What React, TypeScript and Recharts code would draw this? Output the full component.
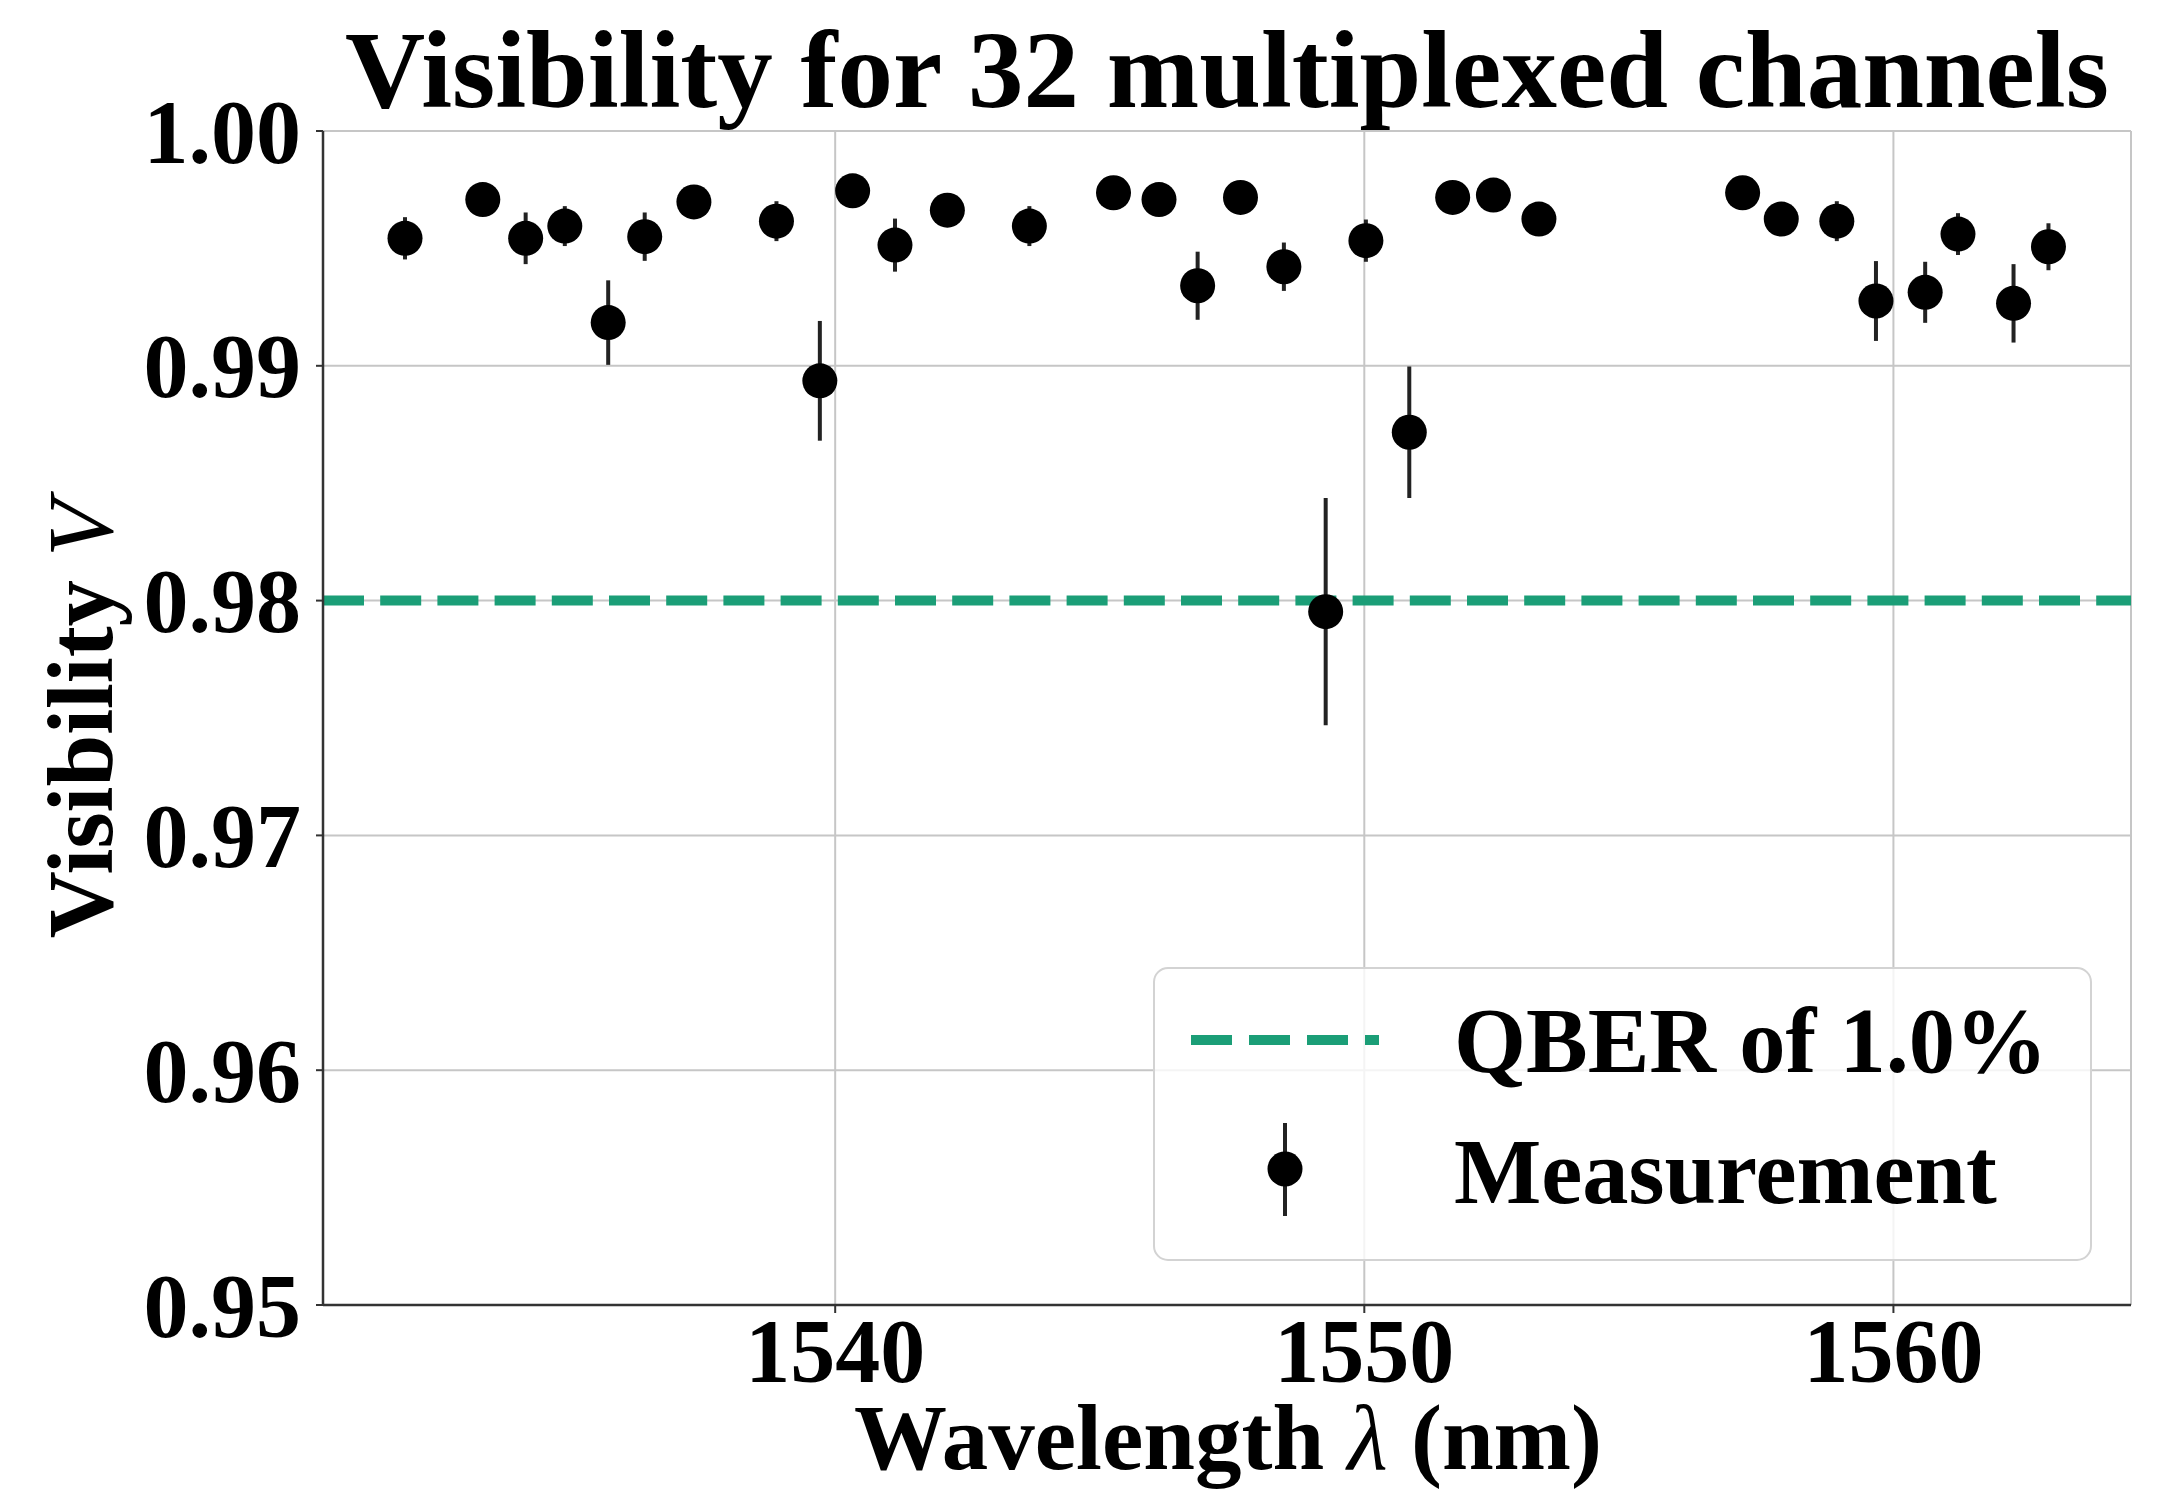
import React from 'react';
import { ScatterChart, Scatter, XAxis, YAxis, CartesianGrid, ReferenceLine, ErrorBar } from 'recharts';

const wavelengths = [
  1531.87, 1533.34, 1534.15, 1534.89, 1535.71, 1536.4, 1537.33, 1538.89,
  1539.71, 1540.33, 1541.13, 1542.12, 1543.67, 1545.26, 1546.12, 1546.85,
  1547.66, 1548.48, 1549.27, 1550.03, 1550.85, 1551.67, 1552.44, 1553.3,
  1557.15, 1557.88, 1558.93, 1559.67, 1560.6, 1561.22, 1562.27, 1562.93,
];
const visibility = [
  0.99543, 0.99708, 0.99543, 0.99595, 0.99184, 0.9955, 0.99698, 0.99616,
  0.98936, 0.99745, 0.99514, 0.99663, 0.99595, 0.99737, 0.99708, 0.99341,
  0.99717, 0.99422, 0.97953, 0.99533, 0.98717, 0.99717, 0.99727, 0.99625,
  0.99737, 0.99625, 0.99616, 0.99276, 0.99313, 0.99561, 0.99266, 0.99507,
];
const errors = [
  0.0009, 0.0005, 0.0011, 0.00085, 0.0018, 0.00103, 0.0005, 0.00085,
  0.00255, 0.0005, 0.00113, 0.0006, 0.00085, 0.0005, 0.0005, 0.00145,
  0.0005, 0.00103, 0.00484, 0.0009, 0.0028, 0.0005, 0.0005, 0.0005,
  0.0005, 0.0005, 0.00085, 0.0017, 0.0013, 0.00089, 0.00167, 0.001,
];
const xTicks = [1540, 1550, 1560];
const yTicks = [0.95, 0.96, 0.97, 0.98, 0.99, 1.0];
const xDomain = [1530.32, 1564.49];
const yDomain = [0.95, 1.0];
const qberVisibility = 0.98;

const titleText = 'Visibility for 32 multiplexed channels';
const legendLineLabel = 'QBER of 1.0%';
const legendPointLabel = 'Measurement';

const data = wavelengths.map((w, i) => ({ x: w, y: visibility[i], err: errors[i] }));

const FONT = "'Liberation Serif', 'Times New Roman', serif";
const GREEN = '#1b9e77';

const YTick = (props: any) => {
  const { x, y, payload } = props;
  return (
    <text x={x} y={y} dy="0.35em" textAnchor="end" fontFamily={FONT} fontWeight="bold" fontSize={90} fill="#000">
      {Number(payload.value).toFixed(2)}
    </text>
  );
};

const XTick = (props: any) => {
  const { x, y, payload } = props;
  return (
    <text x={x} y={y} dy={69} textAnchor="middle" fontFamily={FONT} fontWeight="bold" fontSize={90} fill="#000">
      {payload.value}
    </text>
  );
};

const Dot = (props: any) => <circle cx={props.cx} cy={props.cy} r={17.5} fill="#000" />;

export default function App() {
  return (
    <div style={{ position: 'absolute', left: 0, top: 0, width: 2163, height: 1491, background: '#fff' }}>
      <ScatterChart width={2163} height={1491} margin={{ top: 131, right: 32, bottom: 86, left: 123 }}>
        <CartesianGrid stroke="#c6c6c6" strokeWidth={2} />
        <XAxis
          type="number"
          dataKey="x"
          domain={xDomain}
          ticks={xTicks}
          allowDataOverflow
          height={100}
          tick={<XTick />}
          tickSize={8}
          tickMargin={0}
          axisLine={{ stroke: '#333', strokeWidth: 2.5 }}
          tickLine={{ stroke: '#333', strokeWidth: 2 }}
        />
        <XAxis
          xAxisId="top"
          orientation="top"
          type="number"
          domain={xDomain}
          allowDataOverflow
          height={0}
          tick={false}
          tickLine={false}
          axisLine={{ stroke: '#333', strokeWidth: 2.5 }}
        />
        <YAxis
          type="number"
          dataKey="y"
          domain={yDomain}
          ticks={yTicks}
          allowDataOverflow
          width={200}
          tick={<YTick />}
          tickSize={7}
          tickMargin={15}
          axisLine={{ stroke: '#333', strokeWidth: 2.5 }}
          tickLine={{ stroke: '#333', strokeWidth: 2 }}
        />
        <YAxis
          yAxisId="right"
          orientation="right"
          type="number"
          domain={yDomain}
          allowDataOverflow
          width={0}
          tick={false}
          tickLine={false}
          axisLine={{ stroke: '#333', strokeWidth: 2.5 }}
        />
        <ReferenceLine y={qberVisibility} stroke={GREEN} strokeWidth={10} strokeDasharray="41 16.2" />
        <Scatter data={data} shape={<Dot />} isAnimationActive={false}>
          <ErrorBar dataKey="err" direction="y" width={0} stroke="#222" strokeWidth={4} isAnimationActive={false} />
        </Scatter>
      </ScatterChart>
      <svg width={2163} height={1491} style={{ position: 'absolute', left: 0, top: 0, pointerEvents: 'none' }}>
        <text x={1227} y={107} textAnchor="middle" fontFamily={FONT} fontWeight="bold" fontSize={111} fill="#000">
          {titleText}
        </text>
        <text x={1228} y={1469} textAnchor="middle" fontFamily={FONT} fontWeight="bold" fontSize={93} fill="#000">
          Wavelength <tspan fontStyle="italic" fontWeight="normal">λ</tspan> (nm)
        </text>
        <text
          x={112}
          y={719}
          textAnchor="middle"
          transform="rotate(-90, 112, 719)"
          fontFamily={FONT}
          fontWeight="bold"
          fontSize={93}
          fill="#000"
        >
          Visibility <tspan fontStyle="italic" fontWeight="normal">V</tspan>
        </text>
        <g>
          <rect x={1154} y={968} width={937} height={292} rx={14} ry={14} fill="#fff" fillOpacity={0.8} stroke="#d3d3d3" strokeWidth={2} />
          <line x1={1191} y1={1040} x2={1379} y2={1040} stroke={GREEN} strokeWidth={10} strokeDasharray="41 17" />
          <line x1={1285} y1={1123} x2={1285} y2={1216} stroke="#222" strokeWidth={4} />
          <circle cx={1285} cy={1169} r={17.5} fill="#000" />
          <text x={1454} y={1072} fontFamily={FONT} fontWeight="bold" fontSize={92.5} fill="#000">
            {legendLineLabel}
          </text>
          <text x={1454} y={1203} fontFamily={FONT} fontWeight="bold" fontSize={92.5} fill="#000">
            {legendPointLabel}
          </text>
        </g>
      </svg>
    </div>
  );
}
